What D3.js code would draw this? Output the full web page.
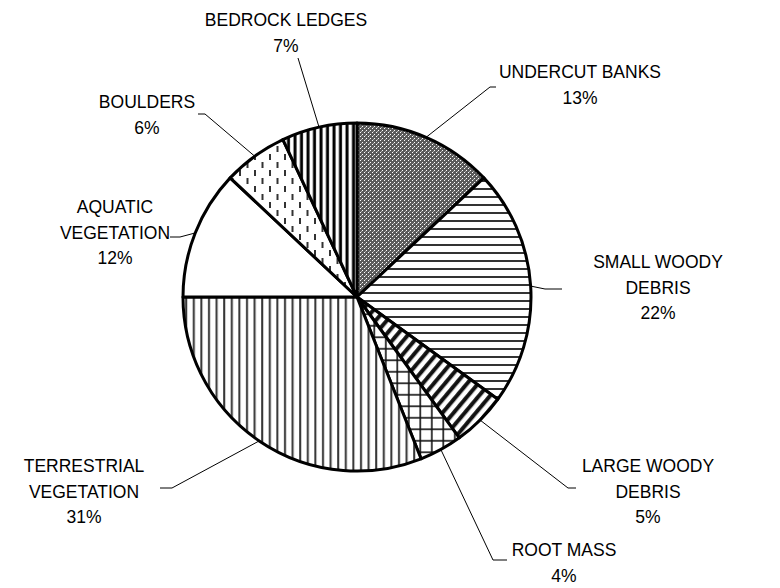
<!DOCTYPE html>
<html><head><meta charset="utf-8">
<script src="https://cdn.jsdelivr.net/npm/d3@7"></script>
<style>body{margin:0;background:#fff}</style>
</head><body>
<svg id="chart" width="780" height="588"></svg>
<script>
const categories = ["UNDERCUT BANKS","SMALL WOODY DEBRIS","LARGE WOODY DEBRIS","ROOT MASS","TERRESTRIAL VEGETATION","AQUATIC VEGETATION","BOULDERS","BEDROCK LEDGES"];
const values = [13,22,5,4,31,12,6,7];
const labelLines = [["UNDERCUT BANKS"],["SMALL WOODY","DEBRIS"],["LARGE WOODY","DEBRIS"],["ROOT MASS"],["TERRESTRIAL","VEGETATION"],["AQUATIC","VEGETATION"],["BOULDERS"],["BEDROCK LEDGES"]];

// layout (label anchor x, first baseline y, leader elbow, leader end)
const layout = [
  {x:580,y:78, elbow:[490,87], end:[496,87]},
  {x:658,y:268, elbow:[545,289], end:[562,289]},
  {x:648,y:472, elbow:[568,488], end:[576,488]},
  {x:564,y:556, elbow:[493,560], end:[507,560]},
  {x:84,y:472, elbow:[172,488], end:[160,488]},
  {x:115,y:213, elbow:[180,237], end:[170,237]},
  {x:147,y:108, elbow:[205,114], end:[198,114]},
  {x:286,y:26, elbow:[298,58], end:[298,58]}
];

const svg = d3.select("#chart");
const defs = svg.append("defs");
const cx = 357, cy = 297, R = 174;

function pat(id, w, h, transform){
  const p = defs.append("pattern").attr("id",id).attr("patternUnits","userSpaceOnUse").attr("width",w).attr("height",h);
  if(transform) p.attr("patternTransform",transform);
  p.append("rect").attr("width",w).attr("height",h).attr("fill","#fff");
  return p;
}
// checker
let p0 = pat("p0",4,4);
p0.select("rect").attr("fill","#5a5a5a");
p0.append("rect").attr("x",1).attr("y",1).attr("width",1).attr("height",1).attr("fill","#fff");
p0.append("rect").attr("x",3).attr("y",3).attr("width",1).attr("height",1).attr("fill","#fff");
p0.append("rect").attr("x",0).attr("y",2).attr("width",1).attr("height",1).attr("fill","#aaa");
// horizontal lines
let p1 = pat("p1",8,8);
p1.append("rect").attr("x",0).attr("y",3).attr("width",8).attr("height",2).attr("fill","#333");
// diagonal thick
let p2 = pat("p2",8.5,8.5,"rotate(40)");
p2.append("rect").attr("x",2).attr("y",0).attr("width",4).attr("height",8.5).attr("fill","#111");
// grid
let p3 = pat("p3",11.5,11.5);
p3.append("rect").attr("x",5).attr("y",0).attr("width",1.6).attr("height",11.5).attr("fill","#111");
p3.append("rect").attr("x",0).attr("y",5).attr("width",11.5).attr("height",1.6).attr("fill","#111");
// vertical lines
let p4 = pat("p4",7.6,8);
p4.append("rect").attr("x",3).attr("y",0).attr("width",2).attr("height",8).attr("fill","#333");
// white
let p5 = pat("p5",4,4);
// dashes
let p6 = pat("p6",15,16);
p6.append("rect").attr("x",2).attr("y",1).attr("width",2).attr("height",6).attr("fill","#333");
p6.append("rect").attr("x",9.5).attr("y",9).attr("width",2).attr("height",6).attr("fill","#333");
// vertical thick
let p7 = pat("p7",6.5,8);
p7.append("rect").attr("x",1.5).attr("y",0).attr("width",3).attr("height",8).attr("fill","#000");

const pie = d3.pie().sort(null).value(d=>d);
const arcs = pie(values);
const arc = d3.arc().innerRadius(0).outerRadius(R);
const g = svg.append("g").attr("transform",`translate(${cx},${cy})`);
g.selectAll("path").data(arcs).join("path")
  .attr("d",arc)
  .attr("fill",(d,i)=>`url(#p${i})`)
  .attr("stroke","#000").attr("stroke-width",3).attr("stroke-linejoin","round");

const outer = d3.arc().innerRadius(R).outerRadius(R);
arcs.forEach((d,i)=>{
  const c = outer.centroid(d);
  const p = [cx+c[0], cy+c[1]];
  const L = layout[i];
  svg.append("polyline")
    .attr("points",[p, L.elbow, L.end].map(q=>q.join(",")).join(" "))
    .attr("fill","none").attr("stroke","#000").attr("stroke-width",1);
  const t = svg.append("text").attr("text-anchor","middle")
    .attr("font-family","Liberation Sans, Arial, sans-serif").attr("font-size",17.5).attr("fill","#000");
  const lines = labelLines[i].concat([values[i]+"%"]);
  lines.forEach((s,k)=>{
    t.append("tspan").attr("x",L.x).attr("y",L.y+k*25.5).text(s);
  });
});
</script>
</body></html>
